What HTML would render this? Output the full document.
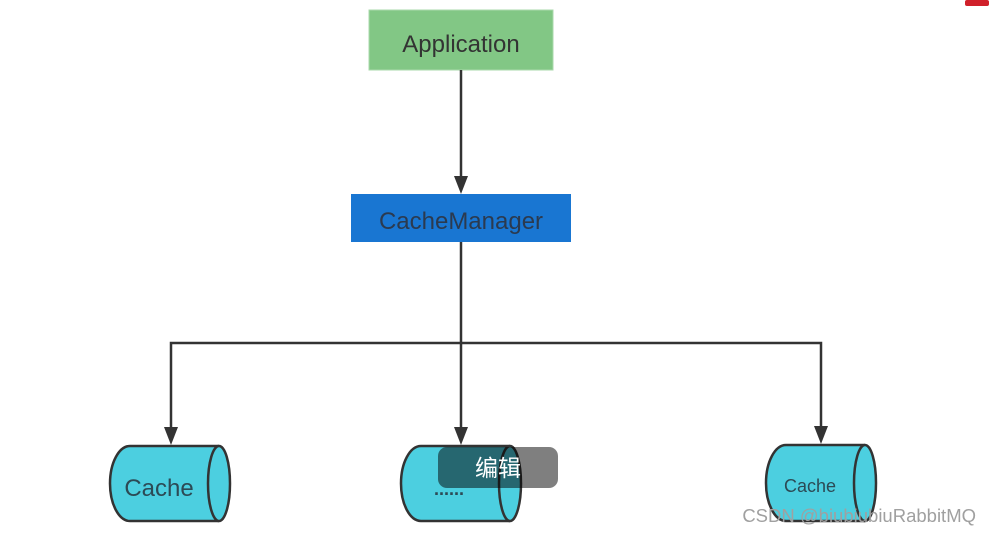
<!DOCTYPE html>
<html><head><meta charset="utf-8"><style>
html,body{margin:0;padding:0;background:#fff;}
svg{display:block;}
</style></head><body>
<svg width="991" height="535" viewBox="0 0 991 535" xmlns="http://www.w3.org/2000/svg" font-family="'Liberation Sans','Noto Sans CJK SC',sans-serif">
<rect x="965" y="0" width="24" height="6" rx="2" fill="#d0202a"/>
<rect x="369" y="10" width="184" height="60" fill="#82c785" stroke="#a9d8ab" stroke-width="1"/>
<text x="461" y="52" font-size="24" fill="#333" text-anchor="middle">Application</text>
<line x1="461" y1="70" x2="461" y2="178" stroke="#333" stroke-width="2.5"/>
<polygon points="454,176 468,176 461,194" fill="#333"/>
<rect x="351" y="194" width="220" height="48" fill="#1976d2"/>
<text x="461" y="229" font-size="24" fill="#2b3a4f" text-anchor="middle">CacheManager</text>
<path d="M461 242 V428" stroke="#333" stroke-width="2.5" fill="none"/>
<path d="M171 428 V343 H821 V428" stroke="#333" stroke-width="2.5" fill="none"/>
<polygon points="164,427 178,427 171,445" fill="#333"/>
<polygon points="454,427 468,427 461,445" fill="#333"/>
<polygon points="814,426 828,426 821,444" fill="#333"/>
<g stroke="#333" stroke-width="2.5" fill="#4ccfe0">
<path d="M219 446 H130 A20 37.5 0 0 0 130 521 H219"/>
<ellipse cx="219" cy="483.5" rx="11" ry="37.5"/>
</g>
<text x="159" y="496" font-size="24" fill="#2c4a55" text-anchor="middle">Cache</text>
<g stroke="#333" stroke-width="2.5" fill="#4ccfe0">
<path d="M510 446 H421 A20 37.5 0 0 0 421 521 H510"/>
<ellipse cx="510" cy="483.5" rx="11" ry="37.5"/>
</g>
<text x="449" y="495" font-size="18" font-weight="bold" fill="#2c4a55" text-anchor="middle">......</text>
<g stroke="#333" stroke-width="2.5" fill="#4ccfe0">
<path d="M865 445 H786 A20 38 0 0 0 786 521 H865"/>
<ellipse cx="865" cy="483" rx="11" ry="38"/>
</g>
<text x="810" y="492" font-size="18" fill="#2c4a55" text-anchor="middle">Cache</text>
<rect x="438" y="447" width="120" height="41" rx="9" fill="#000" fill-opacity="0.5"/>
<text x="498" y="476" font-size="23" fill="#fff" text-anchor="middle">编辑</text>
<text x="976" y="522" font-size="18.5" fill="#a0a0a0" text-anchor="end">CSDN @biubiubiuRabbitMQ</text>
</svg>
</body></html>
